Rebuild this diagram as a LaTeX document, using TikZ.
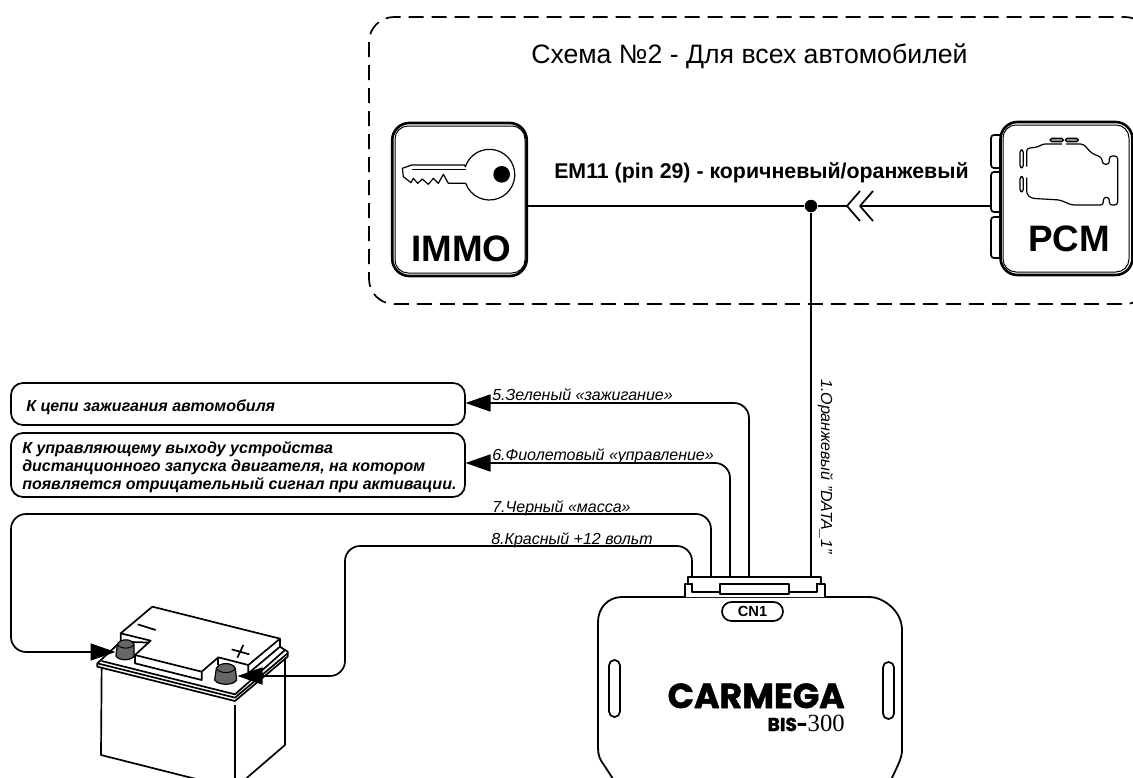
\documentclass[tikz,border=0pt]{standalone}
\usepackage{fontspec}
\setmainfont{Liberation Sans}
\newfontfamily\brandfont[BoldFeatures={FakeBold=1.5}]{Poppins}
\newfontfamily\serffont{Liberation Serif}
\usetikzlibrary{arrows.meta,calc}
\newdimen\pxu \pxu=0.75pt
\newcommand\fsz[1]{\fontsize{#1}{#1}\selectfont}
\tikzset{
  x=\pxu,y=-\pxu,
  lw/.style={line width=1.7\pxu},
  wire/.style={lw,rounded corners=15\pxu},
  tipwire/.style={wire,-{Triangle[length=18.75pt,width=12.75pt]},shorten >=-0.5\pxu},
  lbl/.style={inner sep=0pt,anchor=base west,font=\fsz{12}\itshape},
  boxtxt/.style={inner sep=0pt,anchor=base west,font=\fsz{12}\bfseries\itshape},
  msgbox/.style={draw,lw,rounded corners=12\pxu,inner sep=0pt},
  outerbox/.style={draw,line width=2.6\pxu,rounded corners=17\pxu,inner sep=0pt},
  innerbox/.style={draw,line width=1\pxu,rounded corners=13\pxu,inner sep=0pt},
  tab/.style={lw,rounded corners=3\pxu,fill=white},
  slot/.style={draw,lw,rounded corners=5.4\pxu,inner sep=0pt,minimum width=11\pxu,minimum height=57\pxu},
  post/.style={draw=black,fill=black!60,line width=1.2\pxu},
}
\begin{document}
\begin{tikzpicture}[line join=round]
\clip (0,0) rectangle (1133,778);
\fill[white] (0,0) rectangle (1133,778);

% dashed frame
\draw[lw,dash pattern=on 15\pxu off 8\pxu,rounded corners=25\pxu] (369,17) rectangle (1150,304);
\node[inner sep=0pt,anchor=base west,font=\fsz{20}] (title) at (531,63) {Схема №2 - Для всех автомобилей};

% IMMO
\node[outerbox,minimum width=134.5\pxu,minimum height=153\pxu] (immo) at (459.5,199.5) {};
\node[innerbox,minimum width=130\pxu,minimum height=147\pxu] (immoin) at (460,199.5) {};
\node[inner sep=0pt,anchor=base,font=\fsz{27.6}\bfseries] (immot) at (461.5,261) {IMMO};
\begin{scope}[shift={(395,135)},x=0.25pt,y=-0.25pt]
  \draw[line width=1.2\pxu] (212,95) -- (208,90) -- (50,90) -- (22,100) -- (25,125) -- (48,143) -- (55,130) -- (68,145) -- (82,132) -- (100,148) -- (115,130) -- (130,145) -- (145,118) -- (160,145) -- (212,145)
     arc[start angle=160,end angle=-163,radius=76];
  \draw[line width=1.6\pxu] (50,103) -- (212,103);
  \fill (320,118) circle[radius=25];
\end{scope}

% PCM
\draw[tab] (1000,135) -- (991,135) -- (991,168) -- (1000,168);
\draw[tab] (1000,172) -- (991,172) -- (991,212) -- (1000,212);
\draw[tab] (1000,217) -- (991,217) -- (991,258) -- (1000,258);
\node[outerbox,minimum width=132\pxu,minimum height=153\pxu] (pcm) at (1066.5,198.5) {};
\node[innerbox,minimum width=126\pxu,minimum height=147\pxu] (pcmin) at (1066,198.5) {};
\node[inner sep=0pt,anchor=base,font=\fsz{27.6}\bfseries] (pcmt) at (1069,251) {PCM};
\begin{scope}[shift={(1000,125)},x=0.25pt,y=-0.25pt]
  \draw[line width=1.2\pxu,rounded corners=2.2pt] (80,125) -- (80,70) -- (115,66) -- (127,57) -- (186,57);
  \draw[line width=1.2\pxu,rounded corners=2.2pt] (198,57) -- (250,57) -- (275,85) -- (305,97) -- (308,118) -- (328,118) -- (328,93) -- (353,93) -- (353,240) -- (328,240) -- (328,217) -- (310,217) -- (310,240) -- (215,240) -- (180,225) -- (95,220) -- (80,208) -- (80,158);
  \draw[line width=1.2\pxu,fill=black!45,rounded corners=1.2pt] (150,40) rectangle (190,50);
  \draw[line width=1.2\pxu,fill=black!45,rounded corners=1.2pt] (196,40) rectangle (235,50);
  \draw[line width=1.2\pxu,rounded corners=1.8pt] (60,75) rectangle (70,128);
  \draw[line width=1.2\pxu,rounded corners=1.8pt] (60,155) rectangle (70,200);
\end{scope}

% bus line
\node[circle,fill=black,inner sep=0pt,minimum size=12.5\pxu] (junc) at (811,206) {};
\coordinate (pcmport) at (991,206);
\coordinate (chevA) at (847,206);
\coordinate (chevB) at (860,206);
\draw[lw] (immo.east |- junc) -- (junc) -- (chevA);
\draw[lw] (pcmport) -- (chevB);
\draw[lw] (860,191) -- (chevA) -- (860,221);
\draw[lw] (873,191) -- (chevB) -- (873,221);
\node[inner sep=0pt,anchor=base west,font=\fsz{16}\bfseries] (bus) at (554,178) {EM11 (pin 29) - коричневый/оранжевый};

% message boxes
\node[msgbox,minimum width=454\pxu,minimum height=42\pxu] (box1) at (238,404) {};
\node[msgbox,minimum width=454\pxu,minimum height=64\pxu] (box2) at (238,465) {};
\node[boxtxt] (b1t) at (26,411) {К цепи зажигания автомобиля};
\node[boxtxt] (b2a) at (22,453) {К управляющему выходу устройства};
\node[boxtxt] (b2b) at (22,471) {дистанционного запуска двигателя, на котором};
\node[boxtxt] (b2c) at (22,489) {появляется отрицательный сигнал при активации.};

% module
\draw[line width=1.8\pxu] (615,782) -- (604,765) .. controls (600,760) and (598,755) .. (598,748) -- (598,622) .. controls (598,608) and (608,597) .. (622,597) -- (870,597) .. controls (882,597) and (902,610) .. (902,630) -- (902,750) .. controls (902,758) and (898,765) .. (890,782);
\node[slot] (slotl) at (614.5,688.5) {};
\node[slot] (slotr) at (888.5,690.5) {};
\node[draw,lw,rounded corners=9.5\pxu,inner sep=0pt,minimum width=61\pxu,minimum height=19\pxu] (cn) at (752.5,611.5) {};
\node[inner sep=0pt,anchor=base,font=\fsz{11}\bfseries] (cnt) at (752.5,616) {CN1};
\node[inner sep=0pt,anchor=base east,font=\fsz{26}\brandfont\bfseries] (brand) at (845,708) {CARMEGA};
\node[inner sep=0pt,anchor=base east,font=\fsz{14}\brandfont\bfseries] (model) at (808,731) {BIS-};
\node[inner sep=0pt,anchor=base east,font=\fsz{18.5}\serffont] (modelno) at (845,731) {300};

% connector
\draw[line width=1.7\pxu,fill=white] (685,597) -- (685,584) -- (692,584) -- (692,592) -- (817,592) -- (817,584) -- (825,584) -- (825,597);
\node[draw,line width=1.7\pxu,fill=white,inner sep=0pt,minimum width=69\pxu,minimum height=10\pxu] (plug) at (754.5,589) {};
\draw[line width=1.7\pxu] (692,592) -- (692,583.5) -- (688,583.5) -- (688,577) -- (821,577) -- (821,583.5) -- (817,583.5) -- (817,592);
\coordinate (p8) at (692,577);
\coordinate (p7) at (711,577);
\coordinate (p6) at (730,577);
\coordinate (p5) at (749,577);
\coordinate (p1) at (811,577);
\draw[lw] (junc) -- (p1);

% battery
\begin{scope}[shift={(90,600)},x=0.25pt,y=-0.25pt]
  \draw[lw] (35,205) -- (33,465) -- (330,540);
  \draw[lw] (435,315) -- (435,540);
  \draw[lw] (585,175) -- (585,435) -- (470,534);
  \draw[lw,fill=white] (22,190) -- (22,200) -- (435,303) -- (593,170) -- (593,155) -- (570,140) -- (92,125) -- cycle;
  \draw[lw] (22,190) -- (435,293) -- (593,160);
  \draw[lw] (35,183) -- (435,283) -- (585,150);
  \draw[lw,fill=white] (92,125) -- (92,100) -- (187,20) -- (570,116) -- (570,140) -- (475,220) -- (475,195) -- (385,172) -- (335,215) -- (335,240) -- (135,190) -- (135,165) -- (182,122) -- (92,100);
  \draw[lw] (135,165) -- (335,215);
  \draw[lw] (385,172) -- (385,195);
  \draw[lw] (475,195) -- (570,116);
  \draw[lw] (143,73) -- (197,90);
  \draw[lw] (425,148) -- (478,163);
  \draw[lw] (460,135) -- (442,173);
  \draw[post] (82,133) -- (78,168) .. controls (85,183) and (125,183) .. (132,168) -- (132,133) .. controls (125,115) and (90,115) .. (82,133) -- cycle;
  \draw[line width=1\pxu] (82,133) .. controls (90,148) and (125,148) .. (132,133);
  \draw[post] (379,205) -- (374,240) .. controls (385,257) and (430,257) .. (440,240) -- (436,205) .. controls (428,186) and (388,186) .. (379,205) -- cycle;
  \draw[line width=1\pxu] (379,205) .. controls (388,222) and (428,222) .. (436,205);
\end{scope}

% wires with arrows
\coordinate (t5) at (466,403);
\coordinate (t6) at (466,463);
\coordinate (t7) at (115,652);
\coordinate (t8) at (238,676);
\draw[tipwire] (p5) |- (t5);
\draw[tipwire] (p6) |- (t6);
\draw[tipwire] (p7) -- (711,514) -- (11,514) -- (11,652) -- (t7);
\draw[tipwire] (p8) -- (692,546) -- (345,546) -- (345,676) -- (t8);
\node[lbl] (l5) at (492,400) {5.Зеленый «зажигание»};
\node[lbl] (l6) at (492,460) {6.Фиолетовый «управление»};
\node[lbl] (l7) at (492,512) {7.Черный «масса»};
\node[lbl] (l8) at (491,544) {8.Красный +12 вольт};
\node[inner sep=0pt,anchor=base west,rotate=-90,font=\fsz{12}\itshape] (l1) at (821,379) {1.Оранжевый "DATA\_1"};
\end{tikzpicture}
\end{document}
